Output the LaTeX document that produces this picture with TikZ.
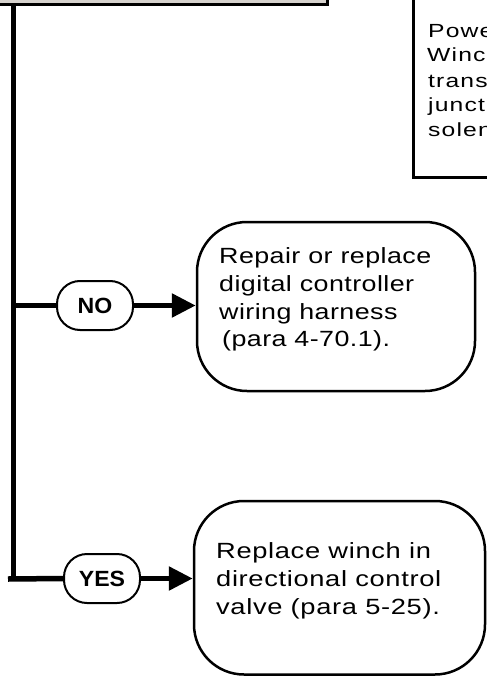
\documentclass[tikz,border=0pt]{standalone}
\usepackage{fontspec}
\usetikzlibrary{arrows.meta}
\newfontfamily\bodyfont{Liberation Sans}[FakeStretch=1.22,LetterSpace=2]
\newfontfamily\yesbodyfont{Liberation Sans}[FakeStretch=1.24,LetterSpace=3]
\newfontfamily\notefont{Liberation Sans}[FakeStretch=1.3,LetterSpace=6]
\newfontfamily\pillfont{Liberation Sans}[FakeStretch=1.05]
\definecolor{topgray}{RGB}{214,210,205}
\tikzset{
  trunk/.style={line width=4.5pt},
  conn/.style={line width=5.5pt},
  arrowconn/.style={conn,-{Triangle[length=24pt,width=23pt]}},
  pill/.style={draw,line width=2pt,rounded corners=23pt,minimum width=76pt,minimum height=49pt,inner sep=0pt,fill=white,font=\pillfont\bfseries\fontsize{22}{24}\selectfont},
  actbox/.style={draw,line width=2.5pt,rounded corners=50pt,inner sep=0pt,fill=white},
  boxtext/.style={anchor=base west,inner sep=0pt,font=\bodyfont\fontsize{22}{28}\selectfont},
  yestext/.style={anchor=base west,inner sep=0pt,font=\yesbodyfont\fontsize{22}{28}\selectfont},
  notetext/.style={anchor=base west,inner sep=0pt,font=\notefont\fontsize{19}{25}\selectfont},
  topbox/.style={draw,line width=3pt,fill=topgray},
  notebox/.style={draw,line width=3pt,fill=white},
}
\begin{document}
\begin{tikzpicture}[x=1pt,y=-1pt]
\useasboundingbox (0,0) rectangle (487,677);
\clip (0,0) rectangle (487,677);
\fill[white] (0,0) rectangle (487,677);
% top gray box (cut by the picture edge)
\draw[topbox] (-20,-60) rectangle (327.5,4.2);
% note box at upper right (cut by the picture edge)
\draw[notebox] (413,-20) rectangle (530,177);
\node[notetext] (n1) at (428,37.5) {Powe};
\node[notetext] (n2) at (427,62) {Winc};
\node[notetext] (n3) at (428,87) {trans};
\node[notetext] (n4) at (428,111.75) {junct};
\node[notetext] (n5) at (428,136.5) {solen};
% trunk
\coordinate (ttop) at (13.7,4.2);
\coordinate (tno) at (13.7,305.5);
\coordinate (tyes) at (13.7,579);
\coordinate (yl) at (8,579);
\draw[trunk] (ttop) -- (tyes);
% boxes
\node[actbox,minimum width=278pt,minimum height=169pt] (nobox) at (336,306.5) {};
\node[actbox,minimum width=291pt,minimum height=173.5pt] (yesbox) at (339.5,587.75) {};
% pills
\node[pill] (no) at (95,305.5) {NO};
\node[pill] (yes) at (102,578.5) {YES};
% connectors
\draw[conn] (tno) -- (no.west);
\draw[arrowconn] (no.east) -- (nobox.west |- no.east);
\draw[conn] (yl) -- (yes.west);
\draw[arrowconn] (yes.east) -- (yesbox.west |- yes.east);
% texts
\node[boxtext] (a1) at (219,263.5) {Repair or replace};
\node[boxtext] (a2) at (219,291.5) {digital controller};
\node[boxtext] (a3) at (219,319) {wiring harness};
\node[boxtext] (a4) at (222,346.5) {(para 4-70.1).};
\node[yestext] (b1) at (216,558) {Replace winch in};
\node[yestext] (b2) at (216,586) {directional control};
\node[yestext] (b3) at (216,614) {valve (para 5-25).};
\end{tikzpicture}
\end{document}
